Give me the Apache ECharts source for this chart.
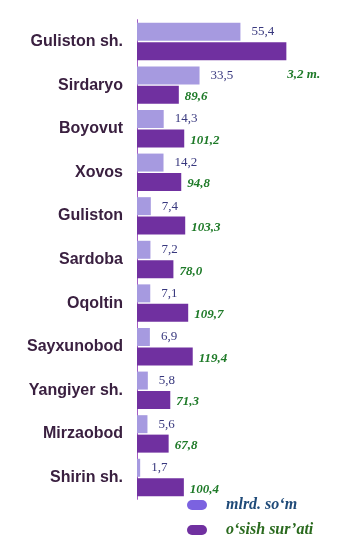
<!DOCTYPE html>
<html>
<head>
<meta charset="utf-8">
<script src="https://cdn.jsdelivr.net/npm/echarts@6/dist/echarts.min.js"></script>
<style>html,body{margin:0;padding:0;background:#fff;}#c{width:359px;height:547px;}</style>
</head>
<body>
<div id="c"></div>
<script>
var categories = ['Guliston sh.', 'Sirdaryo', 'Boyovut', 'Xovos', 'Guliston', 'Sardoba', 'Oqoltin', 'Sayxunobod', 'Yangiyer sh.', 'Mirzaobod', 'Shirin sh.'];
var volumeValues = [55.4, 33.5, 14.3, 14.2, 7.4, 7.2, 7.1, 6.9, 5.8, 5.6, 1.7];
var growthValues = [320, 89.6, 101.2, 94.8, 103.3, 78.0, 109.7, 119.4, 71.3, 67.8, 100.4];
var seriesNames = ['mlrd. so\u2018m', 'o\u2018sish sur\u2019ati'];

function fmt(v) { return v.toFixed(1).replace('.', ','); }

var growthData = growthValues.map(function (v, i) {
  var item = { value: v };
  if (v >= 200) {
    item.label = { offset: [1, 23], distance: 0 };
  }
  return item;
});

var chart = echarts.init(document.getElementById('c'));
chart.setOption({
  animation: false,
  grid: { left: 137, right: 35.3, top: 19.7, bottom: 47.7, containLabel: false },
  xAxis: [
    { type: 'value', min: 0, max: 100, show: false },
    { type: 'value', min: 0, max: 400, show: false }
  ],
  yAxis: {
    type: 'category',
    inverse: true,
    data: categories,
    axisLine: { show: true, lineStyle: { color: '#a35cc4', width: 1 } },
    axisTick: { show: false },
    axisLabel: {
      margin: 14,
      fontSize: 16,
      fontWeight: 'bold',
      fontFamily: 'Liberation Sans, Arial, sans-serif',
      color: '#3a2040'
    }
  },
  legend: {
    orient: 'vertical',
    left: 187,
    top: 497,
    padding: 0,
    itemWidth: 20,
    itemHeight: 11,
    itemGap: 9,
    icon: 'path://M5,0 L15,0 A5,5 0 0 1 15,10 L5,10 A5,5 0 0 1 5,0 Z',
    textStyle: {
      fontSize: 16,
      fontStyle: 'italic',
      fontWeight: 'bold',
      fontFamily: 'Liberation Serif, Times New Roman, serif',
      lineHeight: 16,
      padding: [0, 0, 0, 14]
    },
    data: [
      { name: seriesNames[0], itemStyle: { color: '#7b62e0' }, textStyle: { color: '#1f4a78' } },
      { name: seriesNames[1], itemStyle: { color: '#7030a0' }, textStyle: { color: '#2a6a1e' } }
    ]
  },
  series: [
    {
      name: seriesNames[0],
      type: 'bar',
      xAxisIndex: 0,
      data: volumeValues,
      barWidth: 18,
      barGap: '8%',
      itemStyle: { color: '#a69ae0' },
      label: {
        show: true,
        position: 'right',
        distance: 11,
        fontSize: 13,
        fontFamily: 'Liberation Serif, Times New Roman, serif',
        color: '#38387e',
        formatter: function (p) { return fmt(p.value); }
      }
    },
    {
      name: seriesNames[1],
      type: 'bar',
      xAxisIndex: 1,
      data: growthData,
      barWidth: 18,
      barGap: '8%',
      itemStyle: { color: '#7030a0' },
      label: {
        show: true,
        position: 'right',
        distance: 6,
        offset: [0, 2],
        fontSize: 13,
        fontStyle: 'italic',
        fontWeight: 'bold',
        fontFamily: 'Liberation Serif, Times New Roman, serif',
        color: '#1e7a28',
        formatter: function (p) {
          var v = p.value;
          return v >= 200 ? (v / 100).toFixed(1).replace('.', ',') + ' m.' : fmt(v);
        }
      }
    }
  ]
});
</script>
</body>
</html>
